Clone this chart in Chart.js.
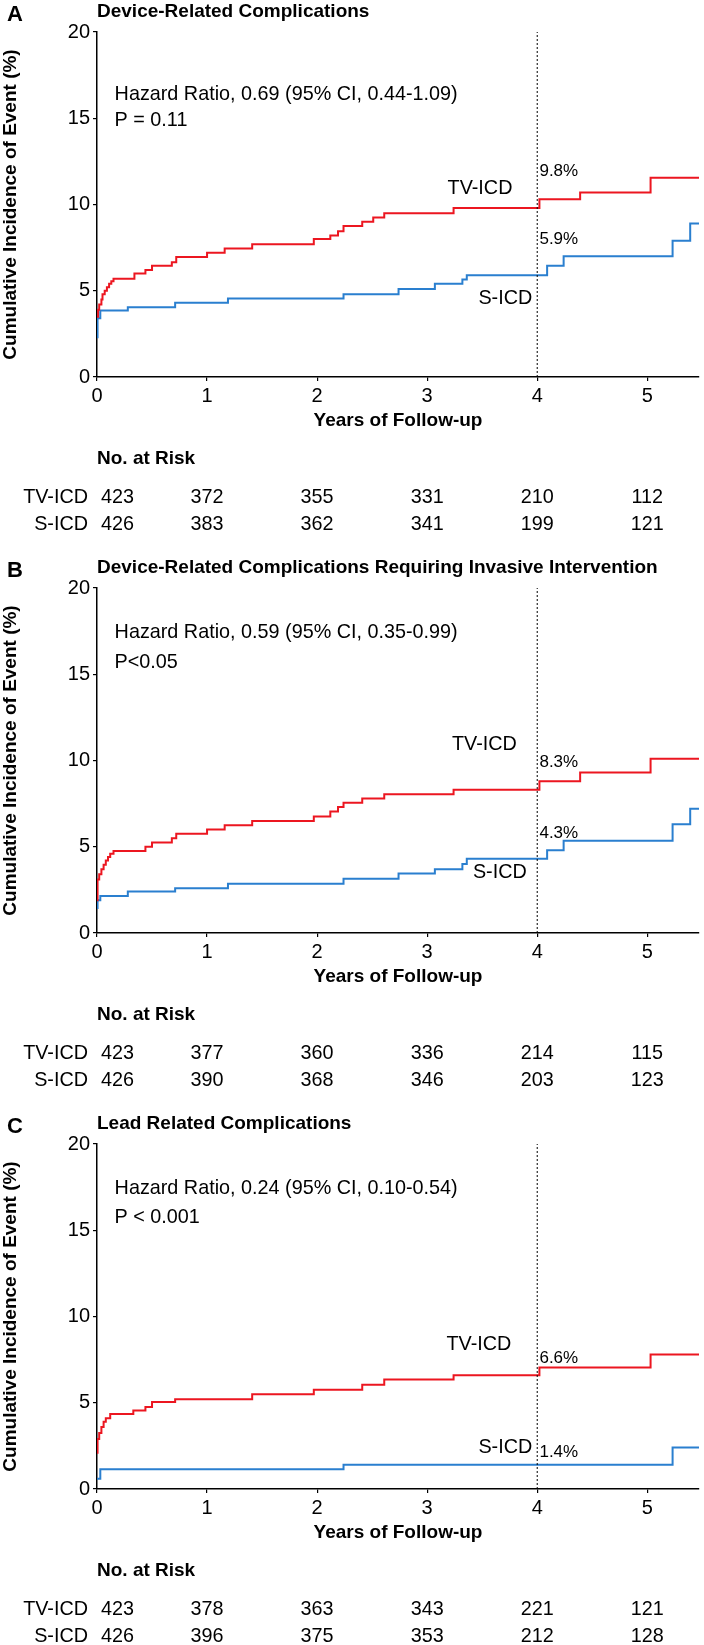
<!DOCTYPE html>
<html>
<head>
<meta charset="utf-8">
<script src="https://cdn.jsdelivr.net/npm/chart.js@4.4.0/dist/chart.umd.min.js"></script>
<style>
  html, body { margin: 0; padding: 0; background: #fff; overflow: hidden; }
  canvas { display: block; }
</style>
</head>
<body>
<canvas id="panelA" width="704" height="556"></canvas>
<canvas id="panelB" width="704" height="556"></canvas>
<canvas id="panelC" width="704" height="533"></canvas>
<script>
const FONT = '"Liberation Sans", Arial, sans-serif';
const RED = '#ec1620';
const BLUE = '#2a7fcf';

const xTicks = [0, 1, 2, 3, 4, 5];
const yTicks = [0, 5, 10, 15, 20];
const groups = ['TV-ICD', 'S-ICD'];

// A: device-related complications
const aTvTime = [0, 0.01, 0.02, 0.04, 0.05, 0.07, 0.09, 0.11, 0.13, 0.15, 0.34, 0.44, 0.50, 0.68, 0.72, 1.00, 1.16, 1.41, 1.97, 2.12, 2.19, 2.24, 2.41, 2.51, 2.61, 3.24, 4.02, 4.39, 5.03, 5.47];
const aTvPct  = [3.5, 3.9, 4.2, 4.5, 4.8, 5.0, 5.2, 5.4, 5.55, 5.7, 6.0, 6.2, 6.45, 6.65, 6.95, 7.2, 7.45, 7.7, 8.0, 8.2, 8.45, 8.75, 9.0, 9.25, 9.5, 9.8, 10.3, 10.7, 11.55, 11.55];
const aSTime  = [0, 0.005, 0.03, 0.28, 0.71, 1.19, 2.24, 2.74, 3.07, 3.32, 3.36, 4.09, 4.24, 5.23, 5.39, 5.47];
const aSPct   = [2.3, 3.4, 3.85, 4.05, 4.3, 4.55, 4.8, 5.1, 5.4, 5.65, 5.9, 6.45, 7.0, 7.9, 8.9, 8.9];
const aRiskTv = [423, 372, 355, 331, 210, 112];
const aRiskS  = [426, 383, 362, 341, 199, 121];

// B: requiring invasive intervention
const bTvTime = [0, 0.005, 0.02, 0.04, 0.06, 0.08, 0.10, 0.12, 0.15, 0.44, 0.50, 0.68, 0.72, 1.00, 1.16, 1.41, 1.97, 2.12, 2.19, 2.24, 2.41, 2.61, 3.24, 4.02, 4.39, 5.03, 5.47];
const bTvPct  = [1.9, 3.1, 3.4, 3.7, 3.95, 4.2, 4.4, 4.6, 4.75, 5.0, 5.25, 5.5, 5.75, 6.0, 6.25, 6.5, 6.75, 7.05, 7.3, 7.55, 7.8, 8.05, 8.3, 8.8, 9.3, 10.1, 10.1];
const bSTime  = [0, 0.005, 0.03, 0.28, 0.71, 1.19, 2.24, 2.74, 3.07, 3.32, 3.36, 4.09, 4.24, 5.23, 5.39, 5.47];
const bSPct   = [1.45, 1.9, 2.15, 2.4, 2.6, 2.85, 3.15, 3.45, 3.7, 4.0, 4.3, 4.8, 5.35, 6.3, 7.2, 7.2];
const bRiskTv = [423, 377, 360, 336, 214, 115];
const bRiskS  = [426, 390, 368, 346, 203, 123];

// C: lead related complications
const cTvTime = [0, 0.005, 0.02, 0.04, 0.06, 0.08, 0.12, 0.33, 0.44, 0.50, 0.71, 1.41, 1.97, 2.41, 2.61, 3.24, 4.02, 5.03, 5.47];
const cTvPct  = [2.1, 2.9, 3.25, 3.6, 3.9, 4.1, 4.35, 4.55, 4.75, 5.05, 5.2, 5.5, 5.75, 6.05, 6.35, 6.6, 7.05, 7.8, 7.8];
const cSTime  = [0, 0.03, 2.24, 5.23, 5.47];
const cSPct   = [0.6, 1.15, 1.4, 2.4, 2.4];
const cRiskTv = [423, 378, 363, 343, 221, 121];
const cRiskS  = [426, 396, 375, 353, 212, 128];

const toPoints = (t, v) => t.map((x, i) => ({ x: x, y: v[i] }));

const panelText = {
  id: 'panelText',
  afterDraw(chart, args, o) {
    const ctx = chart.ctx;
    const xs = chart.scales.x, ys = chart.scales.y;
    const area = chart.chartArea;
    ctx.save();
    ctx.fillStyle = '#000';
    ctx.textBaseline = 'middle';

    ctx.font = 'bold 22px ' + FONT;
    ctx.textAlign = 'left';
    ctx.fillText(o.letter, 7, 15);
    ctx.font = 'bold 19px ' + FONT;
    ctx.fillText(o.title, area.left, 12);

    ctx.save();
    ctx.translate(11, (area.top + area.bottom) / 2);
    ctx.rotate(-Math.PI / 2);
    ctx.textAlign = 'center';
    ctx.fillText('Cumulative Incidence of Event (%)', 0, 0);
    ctx.restore();

    ctx.textAlign = 'center';
    ctx.fillText('Years of Follow-up', (area.left + area.right) / 2, area.bottom + 44);
    ctx.textAlign = 'left';
    ctx.fillText('No. at Risk', area.left, area.bottom + 82);

    // stats text
    ctx.font = '19.8px ' + FONT;
    ctx.fillText(o.hr, xs.getPixelForValue(o.statX), ys.getPixelForValue(o.hrY));
    ctx.fillText(o.p, xs.getPixelForValue(o.statX), ys.getPixelForValue(o.pY));

    // curve labels
    ctx.textAlign = 'center';
    ctx.fillText(groups[0], xs.getPixelForValue(o.tvLab[0]), ys.getPixelForValue(o.tvLab[1]));
    ctx.fillText(groups[1], xs.getPixelForValue(o.sLab[0]), ys.getPixelForValue(o.sLab[1]));
    ctx.font = '17px ' + FONT;
    ctx.textAlign = 'left';
    ctx.fillText(o.tvPct, xs.getPixelForValue(4.02), ys.getPixelForValue(o.tvPctY));
    ctx.fillText(o.sPct, xs.getPixelForValue(4.02), ys.getPixelForValue(o.sPctY));

    // number at risk table
    ctx.font = '19.8px ' + FONT;
    const rows = [[groups[0], o.riskTv, area.bottom + 121], [groups[1], o.riskS, area.bottom + 148]];
    rows.forEach(([name, vals, yy]) => {
      ctx.textAlign = 'right';
      ctx.fillText(name, 88, yy);
      vals.forEach((n, i) => {
        const px = xs.getPixelForValue(xTicks[i]);
        if (i === 0) { ctx.textAlign = 'left'; ctx.fillText(String(n), px + 4, yy); }
        else { ctx.textAlign = 'center'; ctx.fillText(String(n), px, yy); }
      });
    });
    ctx.restore();
  }
};

function makePanel(id, tv, s, text) {
  const canvas = document.getElementById(id);
  const bottomPad = canvas.height - 377 - 30;
  new Chart(canvas.getContext('2d'), {
    type: 'line',
    data: {
      datasets: [
        { label: 'ref', data: [{ x: 4, y: 0 }, { x: 4, y: 20 }], borderColor: '#000', borderWidth: 1, borderDash: [2, 2], pointRadius: 0 },
        { label: groups[0], data: tv, borderColor: RED, borderWidth: 2, stepped: true, pointRadius: 0 },
        { label: groups[1], data: s, borderColor: BLUE, borderWidth: 2, stepped: true, pointRadius: 0 }
      ]
    },
    options: {
      responsive: false,
      animation: false,
      layout: { padding: { left: 0, right: 5, top: 32, bottom: bottomPad } },
      plugins: { legend: { display: false }, tooltip: { enabled: false }, panelText: text },
      scales: {
        x: {
          type: 'linear', min: 0, max: 5.47,
          afterBuildTicks: sc => { sc.ticks = xTicks.map(v => ({ value: v })); },
          afterFit: sc => { sc.height = 30; },
          grid: { drawOnChartArea: false, drawTicks: true, tickLength: 4, color: '#000', lineWidth: 1.2 },
          border: { color: '#000', width: 1.5 },
          ticks: { color: '#000', padding: 3, font: { family: FONT, size: 20 }, maxRotation: 0 }
        },
        y: {
          type: 'linear', min: 0, max: 20,
          afterBuildTicks: sc => { sc.ticks = yTicks.map(v => ({ value: v })); },
          afterFit: sc => { sc.width = 97; },
          grid: { drawOnChartArea: false, drawTicks: true, tickLength: 4, color: '#000', lineWidth: 1.2 },
          border: { color: '#000', width: 1.5 },
          ticks: { color: '#000', padding: 3, font: { family: FONT, size: 20 } }
        }
      }
    },
    plugins: [panelText]
  });
}

makePanel('panelA', toPoints(aTvTime, aTvPct), toPoints(aSTime, aSPct), {
  letter: 'A', title: 'Device-Related Complications',
  hr: 'Hazard Ratio, 0.69 (95% CI, 0.44-1.09)', p: 'P = 0.11', statX: 0.16, hrY: 16.4, pY: 14.85,
  tvLab: [3.48, 10.9], sLab: [3.71, 4.55], tvPct: '9.8%', tvPctY: 11.9, sPct: '5.9%', sPctY: 7.98,
  riskTv: aRiskTv, riskS: aRiskS
});
makePanel('panelB', toPoints(bTvTime, bTvPct), toPoints(bSTime, bSPct), {
  letter: 'B', title: 'Device-Related Complications Requiring Invasive Intervention',
  hr: 'Hazard Ratio, 0.59 (95% CI, 0.35-0.99)', p: 'P<0.05', statX: 0.16, hrY: 17.4, pY: 15.7,
  tvLab: [3.52, 10.9], sLab: [3.66, 3.5], tvPct: '8.3%', tvPctY: 9.9, sPct: '4.3%', sPctY: 5.8,
  riskTv: bRiskTv, riskS: bRiskS
});
makePanel('panelC', toPoints(cTvTime, cTvPct), toPoints(cSTime, cSPct), {
  letter: 'C', title: 'Lead Related Complications',
  hr: 'Hazard Ratio, 0.24 (95% CI, 0.10-0.54)', p: 'P < 0.001', statX: 0.16, hrY: 17.4, pY: 15.75,
  tvLab: [3.47, 8.37], sLab: [3.71, 2.4], tvPct: '6.6%', tvPctY: 7.56, sPct: '1.4%', sPctY: 2.1,
  riskTv: cRiskTv, riskS: cRiskS
});
</script>
</body>
</html>
